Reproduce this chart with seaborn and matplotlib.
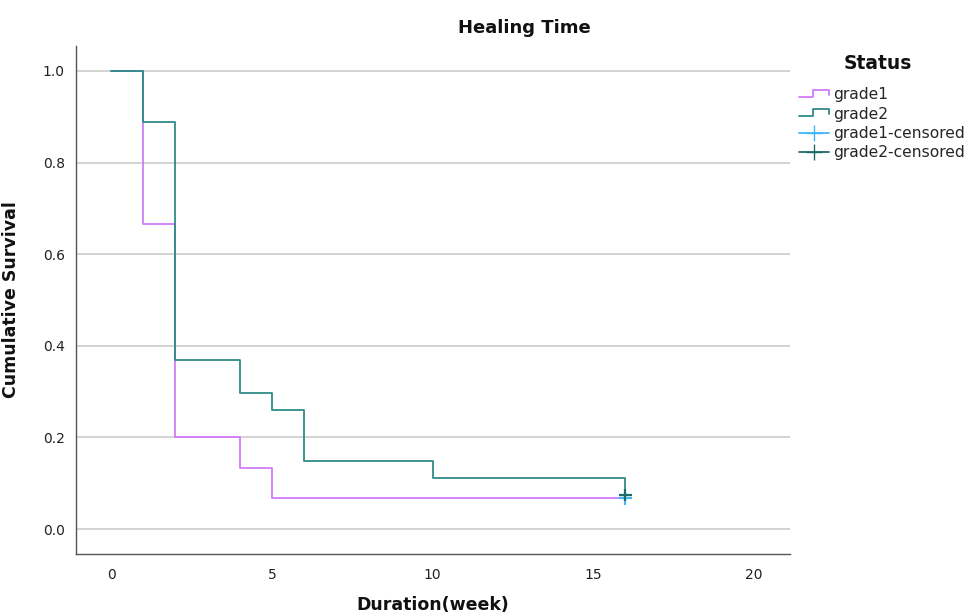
import numpy as np
import pandas as pd
import matplotlib
matplotlib.use("Agg")
import matplotlib.pyplot as plt
from matplotlib.lines import Line2D
from matplotlib.legend_handler import HandlerBase
import seaborn as sns

# Kaplan-Meier step data
grade1_time = [0, 1, 2, 4, 5, 16]
grade1_surv = [1.0, 0.667, 0.2, 0.133, 0.067, 0.067]
grade2_time = [0, 1, 2, 4, 5, 6, 10, 16]
grade2_surv = [1.0, 0.889, 0.370, 0.296, 0.259, 0.148, 0.111, 0.074]
cens_time = [16, 16]
cens_surv = [0.067, 0.074]
cens_group = ["grade1-censored", "grade2-censored"]

c1 = "#d27cfb"
c2 = "#2e8b88"
c1c = "#3fb8f5"
c2c = "#1c6b6a"

df = pd.concat([
    pd.DataFrame({"time": grade1_time, "surv": grade1_surv, "Status": "grade1"}),
    pd.DataFrame({"time": grade2_time, "surv": grade2_surv, "Status": "grade2"}),
])
cens = pd.DataFrame({"time": cens_time, "surv": cens_surv, "Status": cens_group})

sns.set_style("white")
plt.rcParams["font.family"] = ["DejaVu Sans"]

fig = plt.figure(figsize=(9.65, 6.14), dpi=100)
ax = fig.add_axes([0.0788, 0.0977, 0.7399, 0.8274])

ax.yaxis.grid(True, color="#cccccc", linewidth=1.2)
ax.set_axisbelow(True)

sns.lineplot(data=df, x="time", y="surv", hue="Status", palette={"grade1": c1, "grade2": c2},
             estimator=None, sort=False, drawstyle="steps-post", linewidth=1.3, legend=False, ax=ax)
sns.scatterplot(data=cens, x="time", y="surv", hue="Status",
                palette={"grade1-censored": c1c, "grade2-censored": c2c},
                marker="+", s=80, linewidth=1.6, legend=False, ax=ax, zorder=5)

ax.set_xlim(-1.09, 21.12)
ax.set_ylim(-0.0546, 1.0546)
ax.set_xticks([0, 5, 10, 15, 20])
ax.set_yticks([0.0, 0.2, 0.4, 0.6, 0.8, 1.0])
ax.set_yticklabels(["0.0", "0.2", "0.4", "0.6", "0.8", "1.0"])
ax.tick_params(length=0, labelsize=10, pad=8, colors="#222222")
ax.tick_params(axis="x", pad=10)
for s in ["top", "right"]:
    ax.spines[s].set_visible(False)
for s in ["left", "bottom"]:
    ax.spines[s].set_color("#555555")
    ax.spines[s].set_linewidth(1.0)

ax.set_xlabel("Duration(week)", fontsize=12.5, fontweight="bold", color="#111111")
ax.set_ylabel("Cumulative Survival", fontsize=12.5, fontweight="bold", color="#111111")
ax.xaxis.set_label_coords(0.5, -0.083)
ax.yaxis.set_label_coords(-0.078, 0.5)
fig.text(0.543, 0.954, "Healing Time", ha="center", va="center", fontsize=13, fontweight="bold", color="#111111")
fig.text(0.910, 0.896, "Status", ha="center", va="center", fontsize=13.5, fontweight="bold", color="#111111")


class StepHandler(HandlerBase):
    def create_artists(self, legend, orig_handle, xd, yd, w, h, fs, trans):
        xs = np.array([0, 0.45, 0.45, 1.0, 1.0]) * w - xd
        ys = np.array([0.2, 0.2, 0.85, 0.85, 0.4]) * h - yd
        ln = Line2D(xs, ys, color=orig_handle.get_color(), linewidth=1.3, transform=trans)
        return [ln]


h1 = Line2D([], [], color=c1)
h2 = Line2D([], [], color=c2)
h3 = Line2D([0], [0], color=c1c, marker="+", markersize=12, linewidth=1.3)
h4 = Line2D([0], [0], color=c2c, marker="+", markersize=12, linewidth=1.3)
leg = fig.legend([h1, h2, h3, h4], ["grade1", "grade2", "grade1-censored", "grade2-censored"],
                 handler_map={h1: StepHandler(), h2: StepHandler()},
                 loc="upper left", bbox_to_anchor=(0.822, 0.868),
                 frameon=False, fontsize=11.2, handlelength=1.9, handletextpad=0.25,
                 labelspacing=0.28, borderaxespad=0)

fig.savefig("out.png", dpi=100)
